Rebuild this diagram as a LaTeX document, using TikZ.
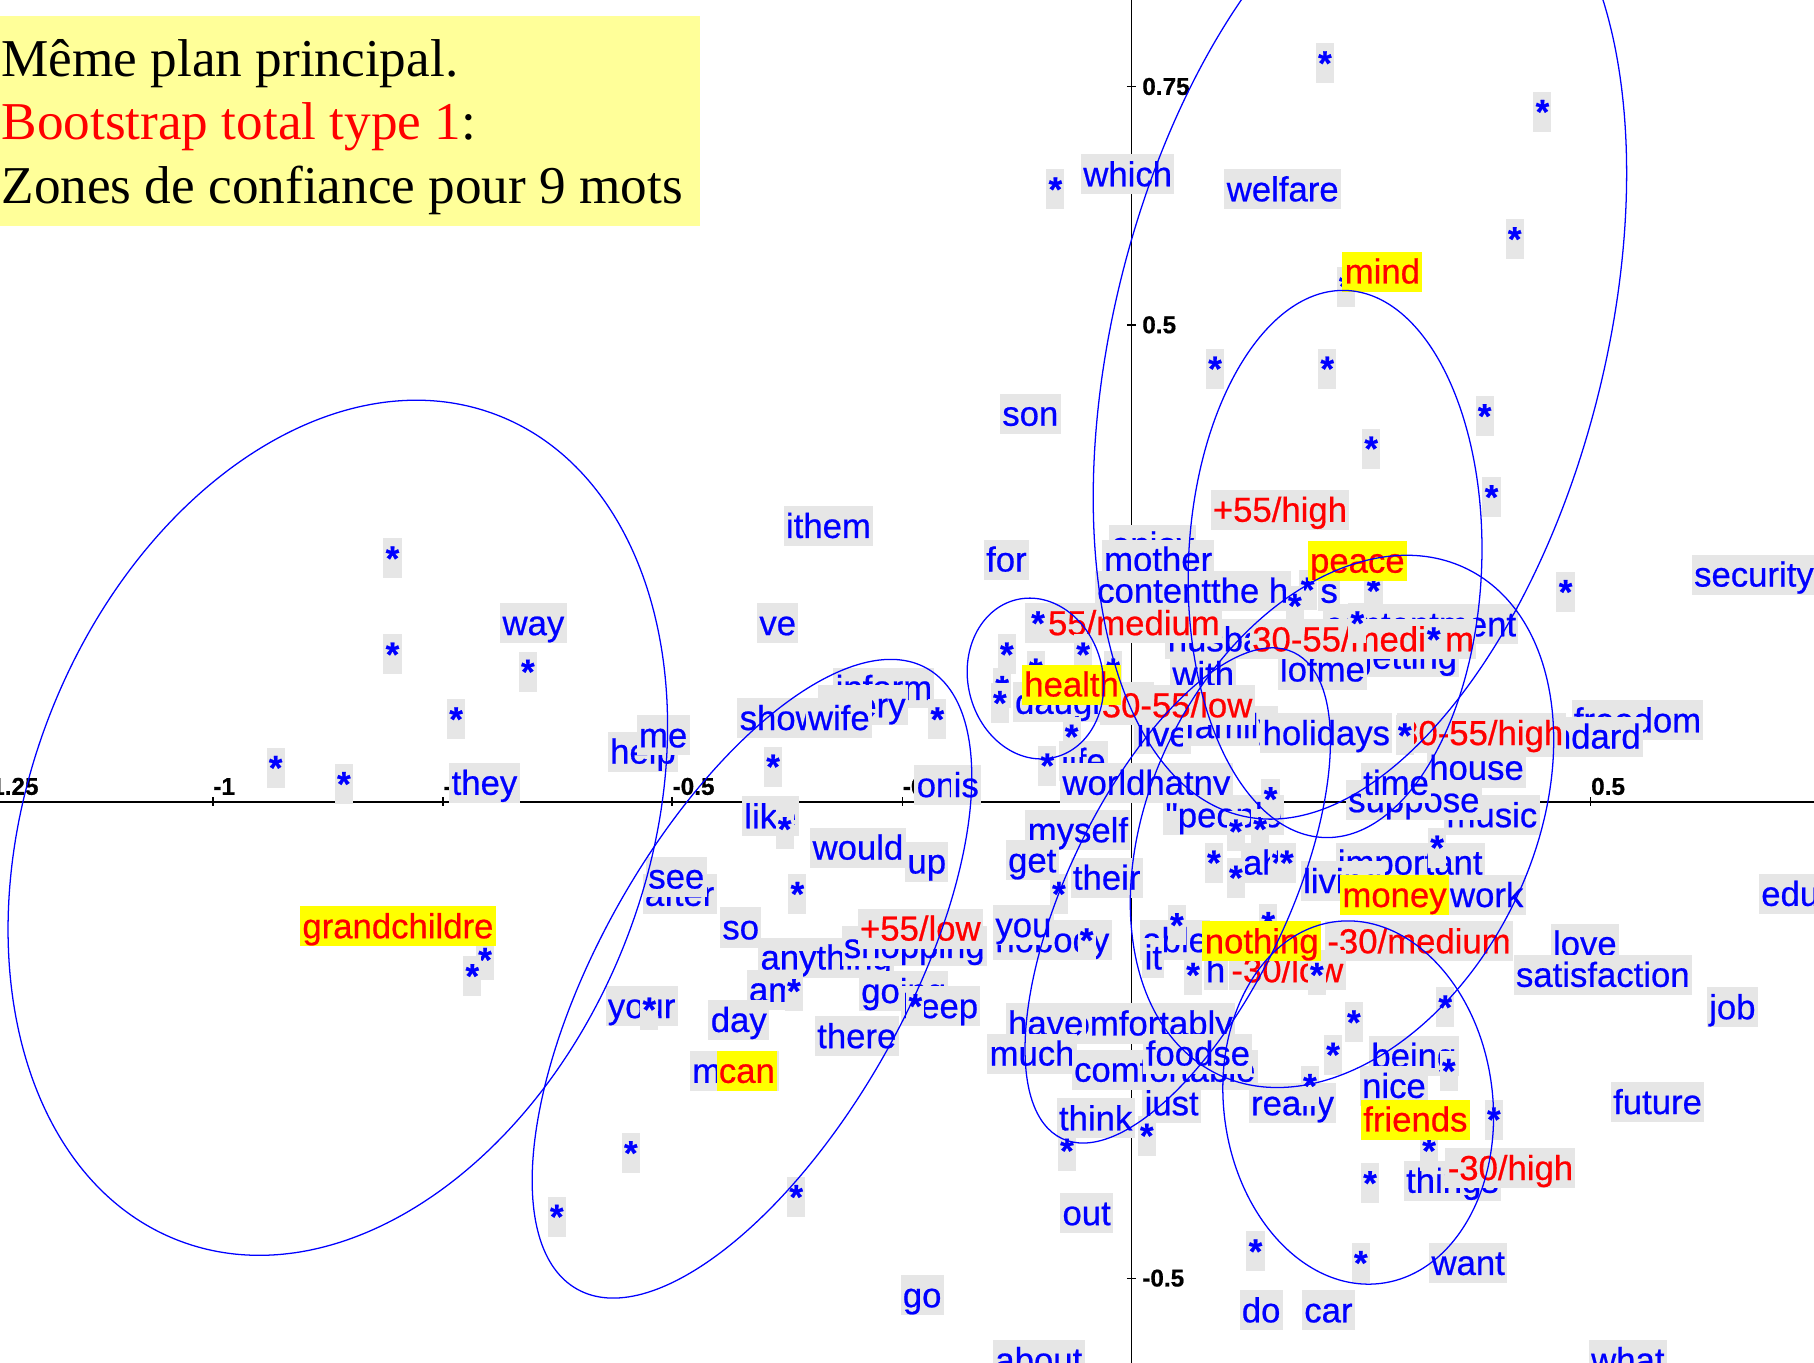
\documentclass[tikz,border=0pt]{standalone}
\usepackage{fontspec}
\setmainfont{Liberation Serif}
\newfontfamily\labfont[FakeBold=0.6]{Liberation Sans}
\definecolor{pblue}{RGB}{0,0,255}
\definecolor{pred}{RGB}{255,0,0}
\definecolor{lgray}{RGB}{230,230,230}
\definecolor{pyellow}{RGB}{255,255,0}
\definecolor{titlebg}{RGB}{255,255,153}
% confidence zone from its bounding box (xmin,xmax,ymin,ymax) and the x of its top point
\newcommand\confzone[5]{%
  \pgfmathsetmacro\czx{(#1+#2)/2}%
  \pgfmathsetmacro\czy{(#3+#4)/2}%
  \pgfmathsetmacro\czW{(#2-#1)/200}%
  \pgfmathsetmacro\czH{(#4-#3)/200}%
  \pgfmathsetmacro\czK{(#5-\czx)/100*\czH}%
  \pgfmathsetmacro\czP{\czW*\czW-\czH*\czH}%
  \pgfmathsetmacro\czD{sqrt(\czP*\czP+4*\czK*\czK)}%
  \pgfmathsetmacro\czAng{0.5*atan2(2*\czK,\czP)}%
  \pgfmathsetmacro\czRa{100*sqrt((\czW*\czW+\czH*\czH+\czD)/2)}%
  \pgfmathsetmacro\czRb{100*sqrt(max((\czW*\czW+\czH*\czH-\czD)/2,0.0001))}%
  \draw[zone, rotate around={\czAng:(\czx,\czy)}] (\czx,\czy) ellipse [x radius=\czRa, y radius=\czRb];%
}
\begin{document}
\begin{tikzpicture}[x=0.5pt,y=-0.5pt,
  lab/.style={anchor=base west, inner xsep=1pt, inner ysep=0pt, text height=13.8pt, text depth=3.5pt,
              font=\labfont\fontsize{15}{15}\selectfont},
  w/.style={lab, fill=lgray, text=pblue},
  rl/.style={lab, fill=lgray, text=pred},
  yl/.style={lab, fill=pyellow, text=pred},
  st/.style={lab, fill=lgray, text=pblue, font=\labfont\bfseries\fontsize{15}{15}\selectfont},
  ticklab/.style={anchor=base west, inner sep=0pt, font=\labfont\bfseries\fontsize{10.5}{10.5}\selectfont},
  axisline/.style={line width=0.8pt, black},
  zone/.style={pblue, line width=0.55pt},
  ttl/.style={anchor=base west, inner sep=0pt, font=\fontsize{23}{27}\selectfont}]
\useasboundingbox (0,0) rectangle (1568,1178);
\clip (0,0) rectangle (1568,1178);

% title panel
\fill[titlebg] (0,14) rectangle (605,195);
\node[ttl] (t1) at (1,66) {Même plan principal.};
\node[ttl] (t2) at (1,121) {\textcolor{pred}{Bootstrap total type 1}:};
\node[ttl] (t3) at (1,176) {Zones de confiance pour 9 mots};

% axes
\coordinate (xl) at (0,693);  \coordinate (xr) at (1568,693);
\coordinate (yt) at (978,0);  \coordinate (yb) at (978,1178);
\draw[axisline] (xl) -- (xr);
\draw[axisline] (yt) -- (yb);
\foreach \tx/\tl in {-15/-1.25, 184/-1, 383/-0.75, 581/-0.5, 780/-0.25, 1177/0.25, 1375/0.5}{
  \draw[line width=0.6pt] (\tx,689) -- (\tx,697);
  \node[ticklab] at (\tx,687) {\tl};
}
\foreach \ty/\tl in {75/0.75, 281/0.5, 487/0.25, 899/-0.25, 1105/-0.5}{
  \draw[line width=0.6pt] (974,\ty) -- (982,\ty);
  \node[ticklab] at (987,\ty+7) {\tl};
}

% words of the plane
\node[w] (w-which) at (934,161) {which};
\node[w] (w-welfare) at (1058,174) {welfare};
\node[w] (w-son) at (864,368) {son};
\node[w] (w-ithem) at (677,465) {ithem};
\node[w] (w-enjoy) at (958,481) {enjoy};
\node[w] (w-mother) at (952,494) {mother};
\node[w] (w-for) at (850,494) {for};
\node[w] (w-security) at (1462,507) {security};
\node[w] (w-content) at (946,521) {contentthe h};
\node[w] (w-s) at (1139,521) {s};
\node[w] (w-way) at (432,549) {way};
\node[w] (w-ve) at (654,549) {ve};
\node[w] (w-husband) at (1007,563) {husband};
\node[w] (w-contentment) at (1143,550) {contentment};
\node[w] (w-getting) at (1167,578) {getting};
\node[w] (w-lofme) at (1104,589) {lofme};
\node[w] (w-with) at (1011,593) {with};
\node[w] (w-inform) at (720,605) {inform};
\node[w] (w-every) at (707,620) {every};
\node[w] (w-show) at (637,631) {show};
\node[w] (w-wife) at (696,631) {wife};
\node[w] (w-freedom) at (1358,633) {freedom};
\node[w] (w-standard) at (1299,647) {standard};
\node[w] (w-help) at (525,660) {help};
\node[w] (w-me) at (550,646) {me};
\node[w] (w-daughter) at (875,617) {daughter};
\node[w] (w-live) at (980,645) {live};
\node[w] (w-family) at (1022,638) {family};
\node[w] (w-holidays) at (1089,644) {holidays};
\node[w] (w-life) at (915,668) {life};
\node[w] (w-house) at (1233,674) {house};
\node[w] (w-they) at (388,687) {they};
\node[w] (w-on) at (790,689) {on};
\node[w] (w-is) at (822,689) {is};
\node[w] (w-world) at (916,687) {worldhatny};
\node[w] (w-music) at (1248,715) {music};
\node[w] (w-suppose) at (1163,702) {suppose};
\node[w] (w-time) at (1176,687) {time};
\node[w] (w-people) at (1005,715) {"people};
\node[w] (w-like) at (641,716) {like};
\node[w] (w-myself) at (886,728) {myself};
\node[w] (w-would) at (700,743) {would};
\node[w] (w-ah) at (1072,756) {ah};
\node[w] (w-important) at (1154,756) {important};
\node[w] (w-living) at (1124,772) {living};
\node[w] (w-up) at (782,755) {up};
\node[w] (w-get) at (869,754) {get};
\node[w] (w-their) at (925,769) {their};
\node[w] (w-after) at (555,783) {after};
\node[w] (w-see) at (558,768) {see};
\node[w] (w-work) at (1251,784) {work};
\node[w] (w-education) at (1520,783) {education};
\node[w] (w-nobody) at (858,823) {nobody};
\node[w] (w-you) at (858,810) {you};
\node[w] (w-so) at (622,812) {so};
\node[w] (w-anything) at (655,838) {anything};
\node[w] (w-shopping) at (727,828) {shopping};
\node[w] (w-able) at (985,823) {able};
\node[w] (w-it) at (987,838) {it};
\node[w] (w-love) at (1340,826) {love};
\node[w] (w-h) at (1040,849) {h};
\node[w] (w-satisfaction) at (1308,853) {satisfaction};
\node[w] (w-am) at (645,866) {am};
\node[w] (w-going) at (742,867) {going};
\node[w] (w-keep) at (778,880) {keep};
\node[w] (w-your) at (523,880) {your};
\node[w] (w-job) at (1475,881) {job};
\node[w] (w-day) at (612,892) {day};
\node[w] (w-comfortably) at (908,895) {comfortably};
\node[w] (w-have) at (869,895) {have};
\node[w] (w-there) at (704,906) {there};
\node[w] (w-much) at (853,921) {much};
\node[w] (w-just) at (987,964) {just};
\node[w] (w-comfortable) at (926,935) {comfortable};
\node[w] (w-foodse) at (988,921) {foodse};
\node[w] (w-being) at (1183,923) {being};
\node[w] (w-nice) at (1175,949) {nice};
\node[w] (w-make) at (596,936) {make};
\node[w] (w-really) at (1079,964) {really};
\node[w] (w-future) at (1392,963) {future};
\node[w] (w-think) at (913,977) {think};
\node[w] (w-things) at (1213,1031) {things};
\node[w] (w-out) at (916,1059) {out};
\node[w] (w-want) at (1235,1102) {want};
\node[w] (w-go) at (778,1130) {go};
\node[w] (w-do) at (1071,1143) {do};
\node[w] (w-car) at (1125,1143) {car};
\node[w] (w-about) at (858,1186) {about};
\node[w] (w-what) at (1373,1186) {what};

% supplementary categories
\node[rl] (r-1) at (1046,451) {+55/high};
\node[rl] (r-2) at (886,549) {+55/medium};
\node[rl] (r-3) at (1080,563) {30-55/medium};
\node[rl] (r-4) at (950,620) {30-55/low};
\node[rl] (r-5) at (1207,644) {30-55/high};
\node[rl] (r-6) at (741,813) {+55/low};
\node[rl] (r-7) at (1145,824) {-30/medium};
\node[rl] (r-8) at (1062,849) {-30/low};
\node[rl] (r-9) at (1249,1020) {-30/high};

% bootstrap replicates
\foreach \sx/\sy [count=\i] in {1145/48, 1333/90, 912/157, 1309/200, 1163/241, 1050/312, 1147/312,
  1283/353, 1185/381, 1289/423, 1353/505,
  339/476, 339/559, 456/574, 394/615, 238/657, 297/671, 419/823, 408/837,
  668/656, 678/710, 689/766, 810/615, 686/850, 561/866, 791/863, 545/990, 481/1045, 688/1028,
  897/532, 870/559, 936/559, 895/573, 866/588, 864/601, 962/573, 926/630, 905/655,
  1130/503, 1119/517, 1187/504, 1173/532, 1239/546, 1214/629,
  1068/712, 1089/710, 1098/684, 1049/739, 1068/752, 1105/739, 1112/739, 1242/726, 1096/792,
  1017/793, 939/806, 915/766, 1031/836, 1138/836, 922/988, 991/975,
  1249/864, 1170/877, 1152/905, 1132/932, 1252/919, 1291/961, 1235/988, 1184/1016, 1085/1075, 1176/1085}
  \node[st] (s\i) at (\sx-8,\sy+17) {*};

% the nine highlighted words
\node[yl] (y-mind) at (1160,245) {mind};
\node[yl] (y-peace) at (1130,495) {peace};
\node[yl] (y-health) at (883,602) {health};
\node[yl] (y-grand) at (259,811) {grandchildre};
\node[yl] (y-money) at (1158,784) {money};
\node[yl] (y-nothing) at (1039,824) {nothing};
\node[yl] (y-can) at (619,936) {can};
\node[yl] (y-friends) at (1176,978) {friends};

% confidence zones
\confzone{7}{577}{346}{1085}{360}
\confzone{460}{840}{570}{1122}{770}
\confzone{836}{954}{517}{656}{890}
\confzone{945}{1406}{-128}{708}{1253}
\confzone{1027}{1281}{251}{724}{1161}
\confzone{977}{1343}{480}{940}{1216}
\confzone{886}{1150}{560}{988}{1100}
\confzone{1057}{1291}{796}{1110}{1165}
\end{tikzpicture}
\end{document}
